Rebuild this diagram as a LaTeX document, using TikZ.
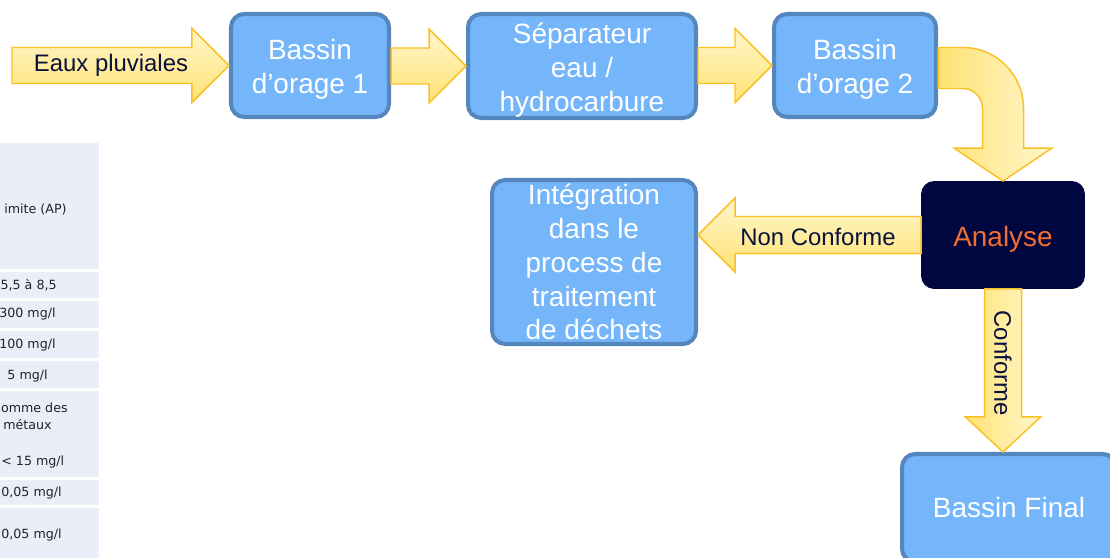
\documentclass[tikz,border=0pt]{standalone}
\usepackage{fontspec}
\setmainfont{Liberation Sans}
\newfontfamily\tabfont{DejaVu Sans}
\usetikzlibrary{calc}

\definecolor{basinfill}{RGB}{117,182,250}
\definecolor{basinline}{RGB}{86,134,190}
\definecolor{navy}{RGB}{0,6,64}
\definecolor{anaorange}{RGB}{240,110,50}
\definecolor{flowline}{RGB}{250,192,40}
\definecolor{flowdark}{RGB}{255,226,115}
\definecolor{flowlight}{RGB}{255,247,205}
\definecolor{labelblue}{RGB}{10,18,60}
\definecolor{cellfill}{RGB}{233,238,248}
\definecolor{tabgrey}{RGB}{35,35,35}

\newcommand{\topstrut}{\rule{0pt}{16pt}}

\begin{document}
\begin{tikzpicture}
          [x=0.02cm,y=-0.02cm,
           basin/.style={rectangle,rounded corners=7.5pt,draw=basinline,line width=2.3pt,fill=basinfill,
             text=white,align=center,inner sep=0pt,font=\fontsize{15.9}{19.3}\selectfont},
           darkbox/.style={basin,draw=none,fill=navy,text=anaorange,outer sep=0pt},
           flowh/.style={draw=flowline,line width=0.85pt,top color=flowlight,bottom color=flowdark},
           flowv/.style={draw=flowline,line width=0.85pt,left color=flowdark,right color=flowlight},
           flowtext/.style={text=labelblue,inner sep=0pt,font=\fontsize{13.6}{16}\selectfont},
           cell/.style={fill=cellfill,draw=none},
           celltext/.style={anchor=east,text=tabgrey,inner sep=0pt,font=\tabfont\fontsize{7.2}{9.6}\selectfont}]
          \useasboundingbox (0,0) rectangle (1110,558);
          \clip (0,0) rectangle (1110,558);

          % table on the left
          \foreach \ytop/\ybot in {143/269,272/298,301/328,331/358,361/388,391/477,480/505,508/565}
            \fill[cell] (-5,\ytop) rectangle (99,\ybot);
          \foreach \ypos/\txt/\xr [count=\i] in {210/{imite (AP)}/67,285/{5,5 à 8,5}/57,314/{300 mg/l}/56,
              345/{100 mg/l}/56,376/{5 mg/l}/48,408/{omme des}/68,425/{métaux}/52}
            \node[celltext] (row\i) at (\xr,\ypos) {\txt};
          \foreach \ypos/\txt [count=\i] in {462/{< 15 mg/l},493/{0,05 mg/l},535/{0,05 mg/l}}
            \node[celltext,anchor=west] (low\i) at (1,\ypos) {\txt};

          \node[basin,minimum width=3.16cm,minimum height=2.06cm] (b1) at (310,65.5) {\topstrut Bassin\\d’orage 1};
          \node[basin,minimum width=4.56cm,minimum height=2.08cm] (sep) at (582,66) {\topstrut Séparateur\\eau /\\hydrocarbure};
          \node[basin,minimum width=3.24cm,minimum height=2.06cm] (b2) at (855,65.5) {\topstrut Bassin\\d’orage 2};
          \node[darkbox,minimum width=3.28cm,minimum height=2.16cm] (ana) at (1003,235) {\topstrut Analyse};
          \node[basin,minimum width=4.08cm,minimum height=3.28cm] (integ) at (594,262)
            {Intégration\\dans le\\process de\\traitement\\de déchets};
          \node[basin,minimum width=4.28cm,minimum height=2.16cm] (fin) at (1009,508) {Bassin Final};

          \coordinate (src) at (12,63);
          \coordinate (bend) at (ana.north |- b2.east);

          % block arrows
          \foreach \from/\to in {src/b1.west,b1.east/sep.west,sep.east/b2.west}
            \path[flowh] (\to) -- ++(-37,-37) -- ++(0,19) -- ($(\from |- \to)+(0,-18)$) -- ++(0,36)
              -- ($(\to)+(-37,18)$) -- ++(0,19) -- cycle;

          \path[flowv] ($(b2.east)+(0,-18)$) -- ($(bend)+(-40,-18)$)
            .. controls ($(bend)+(-6.6,-18)$) and ($(bend)+(20.5,9.3)$) .. ($(bend)+(20.5,43)$)
            -- ($(ana.north)+(20.5,-33)$) -- ++(28.5,0) -- (ana.north) -- ($(ana.north)+(-49,-33)$)
            -- ++(28.5,0) -- ($(bend)+(-20.5,43)$)
            .. controls ($(bend)+(-20.5,32)$) and ($(bend)+(-29.2,23)$) .. ($(bend)+(-40,23)$)
            -- ($(b2.east)+(0,23)$) -- cycle;

          \path[flowh] (integ.east |- ana.west) -- ++(37,-37) -- ++(0,18.5) -- ($(ana.west)+(0,-18.5)$)
            -- ++(0,37) -- ($(integ.east |- ana.west)+(37,18.5)$) -- ++(0,18.5) -- cycle;

          \path[flowv] (ana.south |- fin.north) -- ++(-37.5,-35) -- ++(19,0) -- ($(ana.south)+(-18.5,0)$)
            -- ++(37,0) -- ($(ana.south |- fin.north)+(18.5,-35)$) -- ++(19,0) -- cycle;

          \node[flowtext] (rain) at (111,65) {Eaux pluviales};
          \node[flowtext] (nc) at (818,237) {Non Conforme};
          \node[flowtext,rotate=-90] (ok) at (1003,363) {Conforme};

        \end{tikzpicture}
\end{document}
